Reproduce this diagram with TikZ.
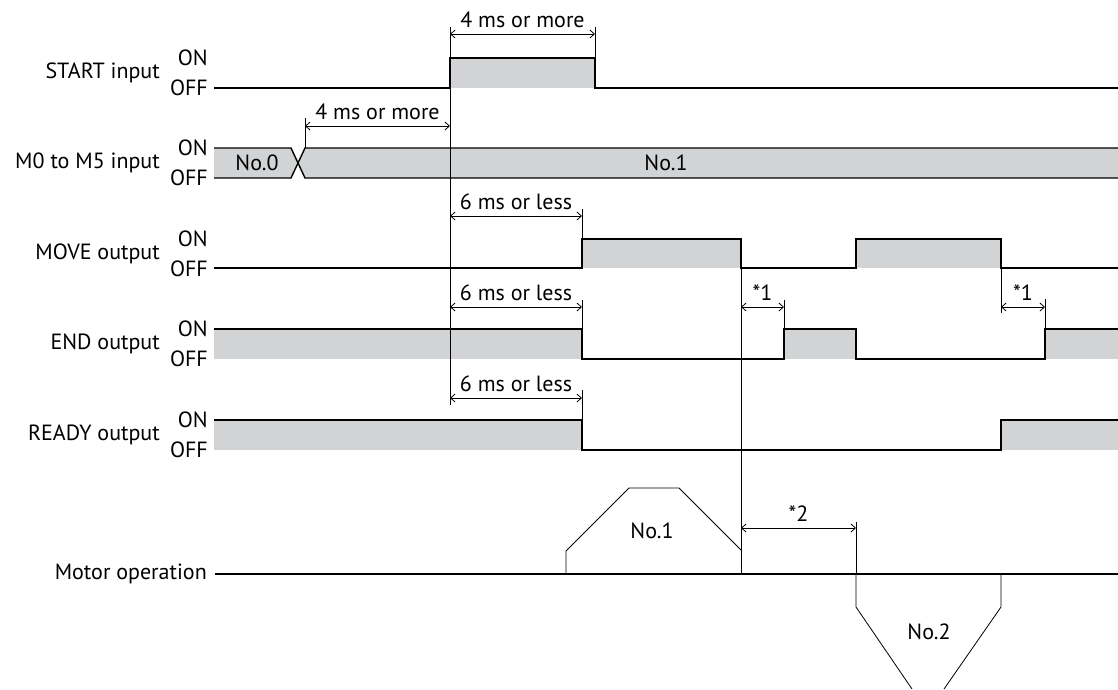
\documentclass[tikz,border=0pt]{standalone}
\usepackage{fontspec}
\setmainfont{PT Sans}
\usepackage{tikz}
\usetikzlibrary{arrows.meta,positioning}
\definecolor{siggray}{RGB}{209,211,212}
\tikzset{
  sig/.style={line width=1.4pt},
  thinline/.style={line width=0.8pt},
  dimarrow/.style={line width=0.8pt, {Straight Barb[length=4.5pt,width=8pt]}-{Straight Barb[length=4.5pt,width=8pt]}},
  lbl/.style={font=\fontsize{22}{24}\selectfont, inner sep=0pt},
}

\begin{document}
\begin{tikzpicture}[x=1pt,y=-1pt]
                \useasboundingbox (0,0) rectangle (1118,689);
                % signal names and levels
                \foreach \name/\on [count=\i] in {START input/58, M0 to M5 input/148, MOVE output/239, END output/329, READY output/420}
                  {
                    \node[lbl, anchor=east] (row\i) at (160,\on+15) {\name};
                    \node[lbl, anchor=east] (on\i) at (208,\on) {ON};
                    \node[lbl, anchor=east] (off\i) at (208,\on+30) {OFF};
                  }
                \node[lbl, anchor=east] (motor) at (207,574) {Motor operation};
                % START input
                \fill[siggray] (450,58) rectangle (595,88);
                \draw[sig] (214,88) -- (450,88) -- (450,58) -- (595,58) -- (595,88) -- (1118,88);
                % M0 to M5 input
                \fill[siggray] (214,148) -- (291,148) -- (298,163) -- (291,178) -- (214,178) -- cycle;
                \fill[siggray] (1118,148) -- (305,148) -- (298,163) -- (305,178) -- (1118,178) -- cycle;
                \draw[sig] (214,148) -- (291,148) -- (305,178) -- (1118,178);
                \draw[sig] (214,178) -- (291,178) -- (305,148) -- (1118,148);
                \node[lbl] (no0) at (257,163) {No.0};
                \node[lbl] (no1) at (666,163) {No.1};
                % MOVE output
                \fill[siggray] (582,239) rectangle (741,268);
                \fill[siggray] (856,239) rectangle (1001,268);
                \draw[sig] (214,268) -| (582,239) -| (741,268) -| (856,239) -| (1001,268) -- (1118,268);
                % END output
                \fill[siggray] (214,329) rectangle (582,359);
                \fill[siggray] (784,329) rectangle (856,359);
                \fill[siggray] (1045,329) rectangle (1118,359);
                \draw[sig] (214,329) -| (582,359) -| (784,329) -| (856,359) -| (1045,329) -- (1118,329);
                % READY output
                \fill[siggray] (214,420) rectangle (582,450);
                \fill[siggray] (1001,420) rectangle (1118,450);
                \draw[sig] (214,420) -| (582,450) -| (1001,420) -- (1118,420);
                % motor operation
                \draw[sig] (215,574) -- (1118,574);
                \draw[thinline] (566,574) -- (566,551) -- (629,488) -- (679,488) -- (741,550);
                \draw[thinline] (856,574) -- (856,607) -- (912,689);
                \draw[thinline] (1001,574) -- (1001,607) -- (944,689);
                \node[lbl] (mot1) at (652,531) {No.1};
                \node[lbl] (mot2) at (929,632) {No.2};
                % reference lines
                \draw[thinline] (450,27) -- (450,405);
                \draw[thinline] (595,27) -- (595,58);
                \draw[thinline] (305,118) -- (305,148);
                \draw[thinline] (582,209) -- (582,239);
                \draw[thinline] (582,300) -- (582,329);
                \draw[thinline] (582,390) -- (582,420);
                \draw[thinline] (741,268) -- (741,574);
                \draw[thinline] (784,300) -- (784,329);
                \draw[thinline] (1001,268) -- (1001,313);
                \draw[thinline] (1045,299) -- (1045,329);
                \draw[thinline] (856,522) -- (856,574);
                % time marks
                \coordinate (s1) at (450,34);   \coordinate (s2) at (595,34);
                \coordinate (m1) at (305,126);  \coordinate (m2) at (450,126);
                \coordinate (v1) at (450,216);  \coordinate (v2) at (582,216);
                \coordinate (e1) at (450,307);  \coordinate (e2) at (582,307);
                \coordinate (r1) at (450,398);  \coordinate (r2) at (582,398);
                \coordinate (a1) at (741,307);  \coordinate (a2) at (784,307);
                \coordinate (b1) at (1001,307); \coordinate (b2) at (1045,307);
                \coordinate (c1) at (741,528);  \coordinate (c2) at (856,528);
                \draw[dimarrow] (s1) -- node[lbl,above=6pt] {4 ms or more} (s2);
                \draw[dimarrow] (m1) -- node[lbl,above=6pt] {4 ms or more} (m2);
                \draw[dimarrow] (v1) -- node[lbl,above=6pt] {6 ms or less} (v2);
                \draw[dimarrow] (e1) -- node[lbl,above=6pt] {6 ms or less} (e2);
                \draw[dimarrow] (r1) -- node[lbl,above=6pt] {6 ms or less} (r2);
                \draw[dimarrow] (a1) -- node[lbl,above=6pt] {*1} (a2);
                \draw[dimarrow] (b1) -- node[lbl,above=6pt] {*1} (b2);
                \draw[dimarrow] (c1) -- node[lbl,above=6pt] {*2} (c2);
              \end{tikzpicture}
\end{document}
